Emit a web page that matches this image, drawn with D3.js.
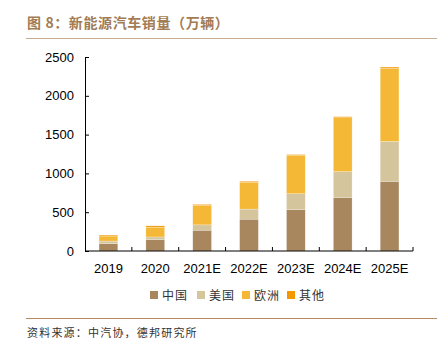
<!DOCTYPE html>
<html>
<head>
<meta charset="utf-8">
<script src="https://cdn.jsdelivr.net/npm/d3@7"></script>
<style>
  body { margin: 0; background: #fff; }
  svg { display: block; }
</style>
</head>
<body>
<script>
const years = ["2019", "2020", "2021E", "2022E", "2023E", "2024E", "2025E"];
const china = [95, 147, 268, 410, 535, 690, 898];
const usa = [33, 34, 69, 130, 203, 333, 514];
const europe = [65, 126, 250, 345, 497, 695, 941];
const other = [12, 17, 13, 13, 8, 13, 17];
const seriesNames = ["中国", "美国", "欧洲", "其他"];
const colors = ["#a8865e", "#d5c59d", "#f4b836", "#f39800"];
const yTicks = [0, 500, 1000, 1500, 2000, 2500];

const width = 446, height = 354;
const margin = { left: 85, right: 33, top: 57, bottom: 103 };

const svg = d3.select("body").append("svg")
    .attr("width", width)
    .attr("height", height);

// title
svg.append("text")
    .attr("x", 27).attr("y", 28)
    .attr("font-family", "Noto Sans CJK SC")
    .attr("font-weight", "bold")
    .attr("font-size", 14)
    .attr("letter-spacing", 0.6)
    .attr("fill", "#a27c55")
    .text("图 8：新能源汽车销量（万辆）");

svg.append("line")
    .attr("x1", 26).attr("x2", 437).attr("y1", 38.5).attr("y2", 38.5)
    .attr("stroke", "#c9ab8d").attr("stroke-width", 1);

const rows = years.map((y, i) => ({
    year: y, "中国": china[i], "美国": usa[i], "欧洲": europe[i], "其他": other[i]
}));

const stack = d3.stack().keys(seriesNames)(rows);

const x = d3.scaleBand()
    .domain(years)
    .range([margin.left, width - margin.right])
    .paddingInner(0.6)
    .paddingOuter(0.3);

const y = d3.scaleLinear()
    .domain([0, 2500])
    .range([height - margin.bottom, margin.top]);

const g = svg.append("g");

g.selectAll("g.series")
    .data(stack)
    .join("g")
    .attr("class", "series")
    .attr("fill", (d, i) => colors[i])
    .selectAll("rect")
    .data(d => d)
    .join("rect")
    .attr("x", d => x(d.data.year))
    .attr("width", x.bandwidth())
    .attr("y", d => y(d[1]))
    .attr("height", d => y(d[0]) - y(d[1]))
    .attr("stroke", "#fff")
    .attr("stroke-opacity", 0.5)
    .attr("stroke-width", 0.5);

// y axis
const yAxis = svg.append("g")
    .attr("transform", `translate(${margin.left},0)`)
    .call(d3.axisLeft(y).tickValues(yTicks).tickFormat(d3.format("d"))
        .tickSizeInner(-4).tickSizeOuter(0).tickPadding(11));
yAxis.select(".domain").attr("stroke", "#000");
yAxis.selectAll("text")
    .attr("font-family", "Liberation Sans, Arial")
    .attr("font-size", 13)
    .attr("fill", "#000");

// x axis, ticks on band boundaries
const xAxisY = y(0);
svg.append("line")
    .attr("x1", margin.left).attr("x2", width - margin.right)
    .attr("y1", xAxisY).attr("y2", xAxisY)
    .attr("stroke", "#000");
const step = x.step();
svg.selectAll("line.xtick")
    .data(years)
    .join("line")
    .attr("class", "xtick")
    .attr("x1", (d, i) => margin.left + step * (i + 1))
    .attr("x2", (d, i) => margin.left + step * (i + 1))
    .attr("y1", xAxisY).attr("y2", xAxisY - 4)
    .attr("stroke", "#000");
svg.selectAll("text.xlab")
    .data(years)
    .join("text")
    .attr("class", "xlab")
    .attr("x", d => x(d) + x.bandwidth() / 2)
    .attr("y", xAxisY + 22)
    .attr("text-anchor", "middle")
    .attr("font-family", "Liberation Sans, Arial")
    .attr("font-size", 13)
    .attr("fill", "#000")
    .text(d => d);

// legend
const legendX = [150, 197, 242, 287];
const legend = svg.selectAll("g.legend")
    .data(seriesNames)
    .join("g")
    .attr("class", "legend")
    .attr("transform", (d, i) => `translate(${legendX[i]},296)`);
legend.append("rect")
    .attr("x", 0).attr("y", -5)
    .attr("width", 8).attr("height", 8)
    .attr("fill", (d, i) => colors[i]);
legend.append("text")
    .attr("x", 12).attr("y", 4)
    .attr("font-family", "Noto Sans CJK SC")
    .attr("font-size", 12)
    .attr("letter-spacing", 1)
    .attr("fill", "#333")
    .text(d => d);

// source
svg.append("line")
    .attr("x1", 26).attr("x2", 437).attr("y1", 318.5).attr("y2", 318.5)
    .attr("stroke", "#b98b63").attr("stroke-width", 1.2);
svg.append("text")
    .attr("x", 27).attr("y", 337)
    .attr("font-family", "Noto Sans CJK SC")
    .attr("font-size", 11)
    .attr("letter-spacing", 1.2)
    .attr("fill", "#333")
    .text("资料来源：中汽协，德邦研究所");
</script>
</body>
</html>
